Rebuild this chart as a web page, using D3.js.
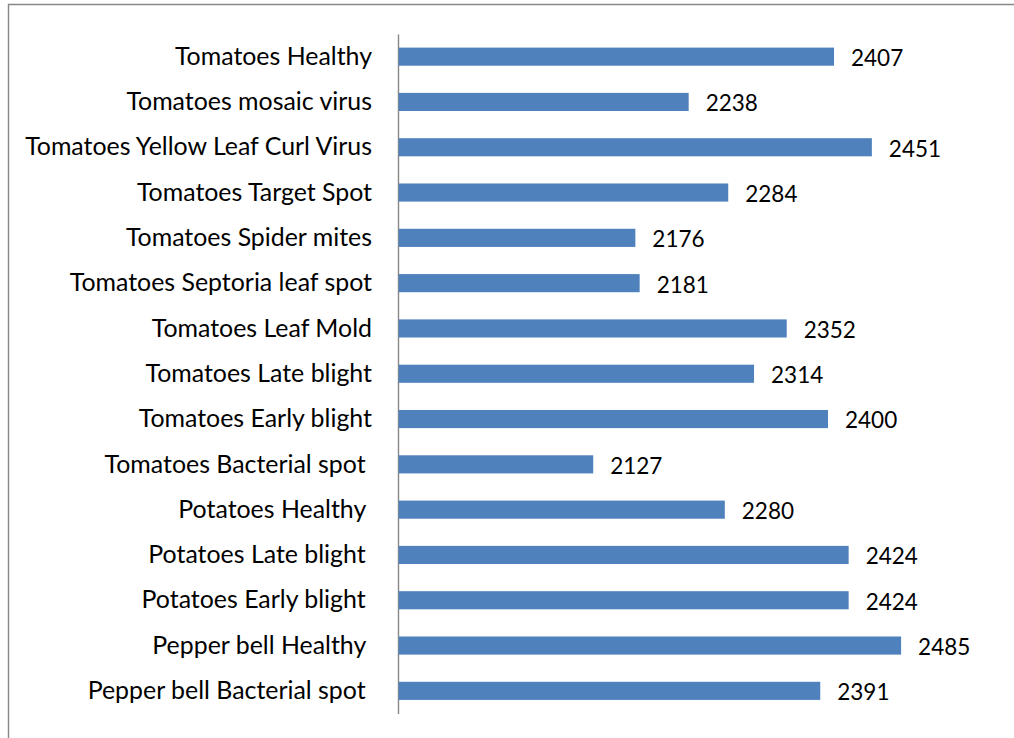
<!DOCTYPE html>
<html>
<head>
<meta charset="utf-8">
<script src="https://cdn.jsdelivr.net/npm/d3@7"></script>
<style>
  body { margin: 0; background: #fff; }
  text { font-family: Lato, "Open Sans", sans-serif; white-space: pre; }
</style>
</head>
<body>
<div id="canvas"></div>
<script>
// categories top to bottom, trailing spaces kept as in the source labels
const categories = [
    "Tomatoes Healthy",
    "Tomatoes mosaic virus",
    "Tomatoes Yellow Leaf Curl Virus",
    "Tomatoes Target Spot",
    "Tomatoes Spider mites",
    "Tomatoes Septoria leaf spot",
    "Tomatoes Leaf Mold",
    "Tomatoes Late blight",
    "Tomatoes Early blight",
    "Tomatoes Bacterial spot ",
    "Potatoes Healthy ",
    "Potatoes Late blight ",
    "Potatoes Early blight ",
    "Pepper bell Healthy ",
    "Pepper bell Bacterial spot "
];
const values = [2407, 2238, 2451, 2284, 2176, 2181, 2352, 2314, 2400, 2127, 2280, 2424, 2424, 2485, 2391];
const xDomain = [1900, 2600];

const width = 1014, height = 738;

let svg = d3.select("#canvas")
    .append("svg")
    .attr("width", width)
    .attr("height", height);

// outer frame (only top and left edges are inside the picture)
svg.append("path")
    .attr("d", "M8.5,738V4.5H1014")
    .attr("fill", "none")
    .attr("stroke", "#878787")
    .attr("stroke-width", 1.4);

let x = d3.scaleLinear()
    .domain(xDomain)
    .range([398, 1000]);

let y = d3.scaleBand()
    .domain(categories)
    .range([34, 713.5])
    .paddingInner(0.6)
    .paddingOuter(0.3);

// category axis
let yAxis = svg.append("g")
    .attr("transform", "translate(" + x(xDomain[0]) + ",0)")
    .call(d3.axisLeft(y).tickSize(0).tickSizeOuter(0).tickPadding(26));

yAxis.select(".domain")
    .attr("stroke", "#878787")
    .attr("stroke-width", 1.4);

yAxis.selectAll("text")
    .attr("font-family", "Lato, sans-serif")
    .attr("font-size", 24.9)
    .attr("fill", "#000")
    .attr("dy", "0.33em");

// bars
svg.append("g")
    .selectAll("rect")
    .data(values)
    .enter()
    .append("rect")
    .attr("x", x(xDomain[0]) + 0.7)
    .attr("y", (d, i) => y(categories[i]))
    .attr("width", d => x(d) - x(xDomain[0]) - 0.7)
    .attr("height", y.bandwidth())
    .attr("fill", "#4f81bd");

// value labels
svg.append("g")
    .selectAll("text")
    .data(values)
    .enter()
    .append("text")
    .attr("x", d => x(d) + 17)
    .attr("y", (d, i) => y(categories[i]) + y.bandwidth() / 2 + 1.5)
    .attr("dy", "0.35em")
    .attr("font-size", 22.5)
    .attr("fill", "#000")
    .text(d => d);
</script>
</body>
</html>
